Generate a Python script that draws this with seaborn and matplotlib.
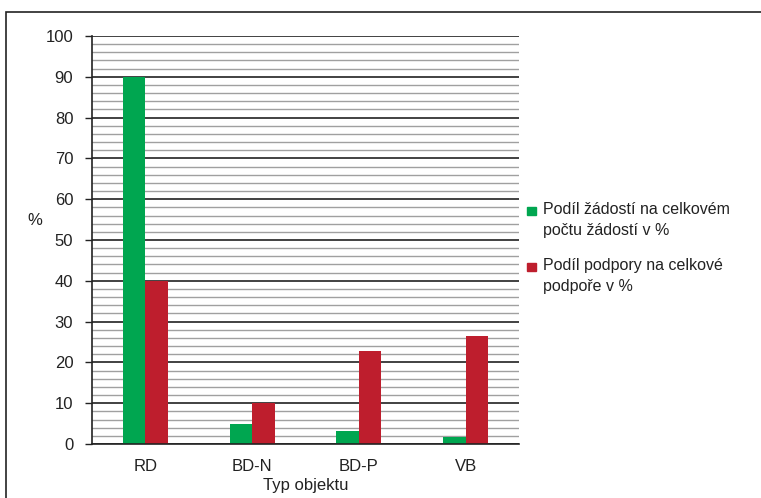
import pandas as pd
import matplotlib.pyplot as plt
import seaborn as sns
from matplotlib.patches import Rectangle
from matplotlib.ticker import MultipleLocator

# chart data
categories = ['RD', 'BD-N', 'BD-P', 'VB']
share_requests = [90.0, 4.9, 3.2, 1.7]
share_support = [40.0, 10.0, 22.8, 26.5]
series_names = ['Podíl žádostí na celkovém\npočtu žádostí v %',
                'Podíl podpory na celkové\npodpoře v %']

GREEN = '#00a650'
RED = '#be1e2d'
W, H = 761, 498

df = pd.DataFrame({
    'Typ objektu': categories * 2,
    'value': share_requests + share_support,
    'series': [series_names[0]] * 4 + [series_names[1]] * 4,
})

sns.set_style('white')
plt.rcParams['font.family'] = ['Liberation Sans', 'DejaVu Sans']

fig = plt.figure(figsize=(W / 100, H / 100), dpi=100)
ax = fig.add_axes([92 / W, 1 - 444 / H, 427 / W, 408 / H])

# outer frame of the figure
fig.patches.append(Rectangle((6 / W, -0.01), 1.0, 1 - 12 / H + 0.01,
                             transform=fig.transFigure, fill=False,
                             edgecolor='#222222', linewidth=1.2))

sns.barplot(data=df, x='Typ objektu', y='value', hue='series',
            palette=[GREEN, RED], width=0.42, saturation=1,
            linewidth=0, ax=ax, legend=False)

ax.set_ylim(0, 100)
ax.set_xlim(-0.5, 3.5)
ax.yaxis.set_major_locator(MultipleLocator(10))
ax.yaxis.set_minor_locator(MultipleLocator(2))
ax.grid(which='minor', axis='y', color='#a0a0a0', linewidth=1.0)
ax.grid(which='major', axis='y', color='#333333', linewidth=1.3)
ax.set_axisbelow(True)

for s in ['top', 'right']:
    ax.spines[s].set_visible(False)
for s in ['left', 'bottom']:
    ax.spines[s].set_color('#222222')
    ax.spines[s].set_linewidth(1.2)

ax.tick_params(axis='y', which='major', left=True, length=5, width=1,
               color='#222222', labelsize=12, pad=8.5, labelcolor='#222222')
ax.tick_params(axis='y', which='minor', left=False)
ax.tick_params(axis='x', bottom=False, labelsize=12, pad=7,
               labelcolor='#222222')

ax.set_ylabel('%', rotation=0, fontsize=12, color='#222222')
ax.yaxis.set_label_coords(-0.133, 0.53)
ax.set_xlabel('Typ objektu', fontsize=12, color='#222222', labelpad=3)

# legend at the right, drawn by hand so the swatch sits on the first line
legend_rows = [(GREEN, 214, series_names[0]), (RED, 270, series_names[1])]
for color, base_y, label in legend_rows:
    fig.patches.append(Rectangle((527 / W, 1 - (base_y + 1) / H), 9 / W, 8 / H,
                                 transform=fig.transFigure, color=color))
    for i, line in enumerate(label.split('\n')):
        fig.text(543 / W, 1 - (base_y + 21.5 * i) / H, line, fontsize=11.5,
                 color='#222222', va='baseline', ha='left')

fig.savefig('out.png', dpi=100)
